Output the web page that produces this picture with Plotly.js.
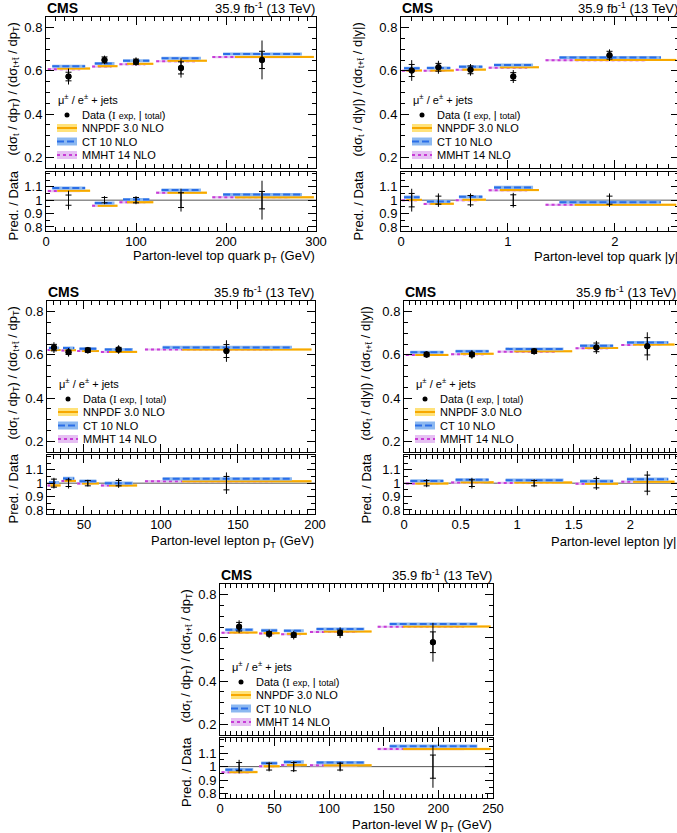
<!DOCTYPE html>
<html><head><meta charset="utf-8">
<script src="https://cdn.plot.ly/plotly-3.0.1.min.js"></script>
<style>html,body{margin:0;padding:0;overflow:hidden;background:#fff}#chart{width:690px;height:833px}</style>
</head><body><div id="chart"></div>
<script>
// ---------- DATA ----------
// Panel 1: parton-level top quark pT
const topPtEdges = [0, 50, 80, 120, 180, 300];
const topPtData  = [0.574, 0.651, 0.643, 0.614, 0.651];
const topPtExp   = [0.020, 0.014, 0.012, 0.028, 0.040];
const topPtTot   = [0.037, 0.020, 0.020, 0.045, 0.090];
const topPtNNPDF = [0.611, 0.622, 0.633, 0.647, 0.665];
const topPtCT10  = [0.622, 0.634, 0.647, 0.659, 0.678];
const topPtMMHT  = [0.608, 0.620, 0.631, 0.645, 0.664];
const topPtRatioNNPDF = [1.070, 0.958, 0.985, 1.055, 1.022];
const topPtRatioCT10  = [1.090, 0.978, 1.005, 1.075, 1.042];
const topPtRatioMMHT  = [1.068, 0.958, 0.985, 1.055, 1.022];
const topPtRatioExp   = [0.038, 0.020, 0.020, 0.055, 0.065];
const topPtRatioTot   = [0.070, 0.030, 0.030, 0.085, 0.145];

// Panel 2: parton-level top quark |y|
const topYEdges = [0, 0.2, 0.5, 0.8, 1.3, 2.6];
const topYData  = [0.602, 0.617, 0.605, 0.574, 0.673];
const topYExp   = [0.028, 0.018, 0.018, 0.018, 0.018];
const topYTot   = [0.048, 0.030, 0.027, 0.030, 0.027];
const topYNNPDF = [0.602, 0.602, 0.606, 0.617, 0.651];
const topYCT10  = [0.612, 0.614, 0.619, 0.628, 0.662];
const topYMMHT  = [0.601, 0.601, 0.605, 0.615, 0.650];
const topYRatioNNPDF = [1.002, 0.973, 1.003, 1.075, 0.965];
const topYRatioCT10  = [1.022, 0.990, 1.025, 1.095, 0.985];
const topYRatioMMHT  = [1.000, 0.972, 1.000, 1.073, 0.965];
const topYRatioExp   = [0.050, 0.030, 0.035, 0.040, 0.030];
const topYRatioTot   = [0.085, 0.050, 0.050, 0.055, 0.050];

// Panel 3: parton-level lepton pT
const lepPtEdges = [26, 35, 45, 60, 85, 200];
const lepPtData  = [0.634, 0.612, 0.622, 0.625, 0.618];
const lepPtExp   = [0.015, 0.010, 0.010, 0.010, 0.030];
const lepPtTot   = [0.025, 0.020, 0.015, 0.020, 0.050];
const lepPtNNPDF = [0.623, 0.622, 0.618, 0.614, 0.625];
const lepPtCT10  = [0.632, 0.632, 0.629, 0.625, 0.635];
const lepPtMMHT  = [0.623, 0.621, 0.618, 0.614, 0.625];
const lepPtRatioNNPDF = [0.983, 1.017, 0.998, 0.983, 1.015];
const lepPtRatioCT10  = [1.005, 1.035, 1.015, 1.000, 1.032];
const lepPtRatioMMHT  = [0.983, 1.017, 0.998, 0.983, 1.015];
const lepPtRatioExp   = [0.030, 0.025, 0.020, 0.020, 0.050];
const lepPtRatioTot   = [0.040, 0.040, 0.025, 0.035, 0.080];

// Panel 4: parton-level lepton |y|
const lepYEdges = [0, 0.4, 0.8, 1.5, 1.9, 2.4];
const lepYData  = [0.602, 0.602, 0.617, 0.635, 0.640];
const lepYExp   = [0.010, 0.010, 0.010, 0.020, 0.040];
const lepYTot   = [0.015, 0.020, 0.015, 0.030, 0.065];
const lepYNNPDF = [0.600, 0.605, 0.617, 0.632, 0.648];
const lepYCT10  = [0.612, 0.617, 0.628, 0.643, 0.658];
const lepYMMHT  = [0.600, 0.603, 0.615, 0.631, 0.646];
const lepYRatioNNPDF = [0.998, 1.007, 1.005, 0.995, 1.010];
const lepYRatioCT10  = [1.017, 1.025, 1.022, 1.015, 1.030];
const lepYRatioMMHT  = [0.998, 1.005, 1.002, 0.995, 1.010];
const lepYRatioExp   = [0.020, 0.025, 0.020, 0.035, 0.060];
const lepYRatioTot   = [0.030, 0.040, 0.030, 0.050, 0.090];

// Panel 5: parton-level W pT
const wPtEdges = [0, 35, 55, 80, 140, 250];
const wPtData  = [0.652, 0.619, 0.613, 0.624, 0.580];
const wPtExp   = [0.020, 0.010, 0.010, 0.012, 0.048];
const wPtTot   = [0.030, 0.020, 0.020, 0.025, 0.090];
const wPtNNPDF = [0.625, 0.622, 0.619, 0.630, 0.653];
const wPtCT10  = [0.638, 0.635, 0.633, 0.641, 0.665];
const wPtMMHT  = [0.624, 0.621, 0.617, 0.628, 0.652];
const wPtRatioNNPDF = [0.960, 1.003, 1.012, 1.010, 1.130];
const wPtRatioCT10  = [0.978, 1.025, 1.034, 1.030, 1.150];
const wPtRatioMMHT  = [0.958, 1.003, 1.012, 1.010, 1.130];
const wPtRatioExp   = [0.030, 0.025, 0.030, 0.025, 0.085];
const wPtRatioTot   = [0.050, 0.035, 0.040, 0.035, 0.155];

const mainTicks  = [0.2, 0.4, 0.6, 0.8];
const ratioTicks = [0.8, 0.9, 1, 1.1];

// ---------- STYLE / LAYOUT ----------
const W = 690, H = 833;
const FONT = 'Liberation Sans, Arial, Helvetica, sans-serif';
const ptTitle = '(dσ<sub>t</sub> / dp<sub>T</sub>) / (dσ<sub>t+t\u0304</sub> / dp<sub>T</sub>)';
const yTitle  = '(dσ<sub>t</sub> / d|y|) / (dσ<sub>t+t\u0304</sub> / d|y|)';

const panels = [
  {edges: topPtEdges, data: topPtData, exp: topPtExp, tot: topPtTot,
   pred: {NNPDF: topPtNNPDF, CT10: topPtCT10, MMHT: topPtMMHT},
   ratio: {NNPDF: topPtRatioNNPDF, CT10: topPtRatioCT10, MMHT: topPtRatioMMHT},
   rExp: topPtRatioExp, rTot: topPtRatioTot,
   range: [0, 300], dtick: 100, minor: 10,
   px: [46, 316], main: [17, 168], rat: [172, 231], ytX: 13, xtY: 257, txtR: 316,
   ytitle: ptTitle, xtitle: 'Parton-level top quark p<sub>T</sub> (GeV)'},
  {edges: topYEdges, data: topYData, exp: topYExp, tot: topYTot,
   pred: {NNPDF: topYNNPDF, CT10: topYCT10, MMHT: topYMMHT},
   ratio: {NNPDF: topYRatioNNPDF, CT10: topYRatioCT10, MMHT: topYRatioMMHT},
   rExp: topYRatioExp, rTot: topYRatioTot,
   range: [0, 2.6], dtick: 1, minor: 0.1,
   px: [401, 679], main: [17, 168], rat: [172, 231], ytX: 358, xtY: 257, txtR: 679,
   ytitle: yTitle, xtitle: 'Parton-level top quark |y|'},
  {edges: lepPtEdges, data: lepPtData, exp: lepPtExp, tot: lepPtTot,
   pred: {NNPDF: lepPtNNPDF, CT10: lepPtCT10, MMHT: lepPtMMHT},
   ratio: {NNPDF: lepPtRatioNNPDF, CT10: lepPtRatioCT10, MMHT: lepPtRatioMMHT},
   rExp: lepPtRatioExp, rTot: lepPtRatioTot,
   range: [26, 200], dtick: 50, minor: 5,
   px: [47, 315], main: [301, 452], rat: [455, 514], ytX: 13, xtY: 541, txtR: 315,
   ytitle: ptTitle, xtitle: 'Parton-level lepton p<sub>T</sub> (GeV)'},
  {edges: lepYEdges, data: lepYData, exp: lepYExp, tot: lepYTot,
   pred: {NNPDF: lepYNNPDF, CT10: lepYCT10, MMHT: lepYMMHT},
   ratio: {NNPDF: lepYRatioNNPDF, CT10: lepYRatioCT10, MMHT: lepYRatioMMHT},
   rExp: lepYRatioExp, rTot: lepYRatioTot,
   range: [0, 2.43], dtick: 0.5, minor: 0.05,
   px: [404, 679], main: [301, 452], rat: [455, 514], ytX: 366, xtY: 541, txtR: 677,
   ytitle: yTitle, xtitle: 'Parton-level lepton |y|'},
  {edges: wPtEdges, data: wPtData, exp: wPtExp, tot: wPtTot,
   pred: {NNPDF: wPtNNPDF, CT10: wPtCT10, MMHT: wPtMMHT},
   ratio: {NNPDF: wPtRatioNNPDF, CT10: wPtRatioCT10, MMHT: wPtRatioMMHT},
   rExp: wPtRatioExp, rTot: wPtRatioTot,
   range: [0, 250], dtick: 50, minor: 5,
   px: [220, 493], main: [584, 735], rat: [738, 798], ytX: 186, xtY: 825, txtR: 493,
   ytitle: ptTitle, xtitle: 'Parton-level W p<sub>T</sub> (GeV)'}
];

// series styles (draw order: MMHT, NNPDF, CT10)
const series = [
  {key: 'MMHT',  name: 'MMHT 14 NLO',   line: '#c83cd6', band: '#e6c0f3', dash: 'dot',     seg: [0.04, 0.76], uMain: 0.005, uRat: 0.009},
  {key: 'NNPDF', name: 'NNPDF 3.0 NLO', line: '#f7a800', band: '#ffe27a', dash: 'solid',   seg: [0.25, 0.98], uMain: 0.005, uRat: 0.009},
  {key: 'CT10',  name: 'CT 10 NLO',     line: '#2a6ee8', band: '#8cb8f0', dash: '7px,3px', seg: [0.14, 0.87], uMain: 0.007, uRat: 0.012}
];

const X = px => px / W;
const Y = py => 1 - py / H;

const traces = [];
const layout = {
  width: W, height: H, margin: {l: 0, r: 0, t: 0, b: 0},
  paper_bgcolor: '#fff', plot_bgcolor: '#fff', showlegend: false,
  font: {family: FONT, size: 13, color: '#000'},
  annotations: [], shapes: []
};

function axisBase(extra) {
  return Object.assign({
    ticks: 'inside', ticklen: 8, tickwidth: 1, tickcolor: '#000',
    showline: true, linecolor: '#000', linewidth: 1, mirror: 'allticks',
    zeroline: false, showgrid: false, fixedrange: true,
    tickfont: {family: FONT, size: 13, color: '#000'}
  }, extra);
}

panels.forEach((p, i) => {
  const a = 2 * i + 1, b = 2 * i + 2;
  const xa = a === 1 ? 'x' : 'x' + a, ya = a === 1 ? 'y' : 'y' + a;
  const xb = 'x' + b, yb = 'y' + b;
  const xdom = [X(p.px[0]), Math.min(1, X(p.px[1]))];
  const mainDom = [Y(p.main[1]), Y(p.main[0])];
  const ratDom = [Y(p.rat[1]), Y(p.rat[0])];
  const minorX = {dtick: p.minor, ticklen: 4, tickcolor: '#000', ticks: 'inside', showgrid: false};
  layout['xaxis' + (a === 1 ? '' : a)] = axisBase({domain: xdom, range: p.range, dtick: p.dtick, tick0: 0,
    showticklabels: false, anchor: ya, minor: minorX});
  layout['xaxis' + b] = axisBase({domain: xdom, range: p.range, dtick: p.dtick, tick0: 0,
    anchor: yb, minor: minorX, ticklabelstandoff: -2});
  layout['yaxis' + (a === 1 ? '' : a)] = axisBase({domain: mainDom, range: [0.15, 0.85],
    tickmode: 'array', tickvals: mainTicks, ticktext: mainTicks.map(String),
    anchor: xa, minor: {dtick: 0.05, tick0: 0, ticklen: 4, tickcolor: '#000', ticks: 'inside', showgrid: false}});
  layout['yaxis' + b] = axisBase({domain: ratDom, range: [0.77, 1.21],
    tickmode: 'array', tickvals: ratioTicks, ticktext: ratioTicks.map(String),
    anchor: xb, minor: {dtick: 0.05, tick0: 0, ticklen: 4, tickcolor: '#000', ticks: 'inside', showgrid: false}});

  const e = p.edges;
  const centers = e.slice(0, -1).map((lo, k) => (lo + e[k + 1]) / 2);

  // line at 1 in ratio
  layout.shapes.push({type: 'line', xref: xb + ' domain', x0: 0, x1: 1, yref: yb, y0: 1, y1: 1,
    line: {color: '#555', width: 1}, layer: 'below'});

  // predictions
  series.forEach(s => {
    [[p.pred[s.key], s.uMain, xa, ya], [p.ratio[s.key], s.uRat, xb, yb]].forEach(([vals, u, xr, yr]) => {
      const bx = [], by = [], lx = [], ly = [];
      vals.forEach((v, k) => {
        const lo = e[k], w = e[k + 1] - e[k];
        const x0 = lo + s.seg[0] * w, x1 = lo + s.seg[1] * w;
        bx.push(x0, x1, x1, x0, x0, null);
        by.push(v - u, v - u, v + u, v + u, v - u, null);
        lx.push(x0, x1, null);
        ly.push(v, v, null);
      });
      traces.push({type: 'scatter', mode: 'lines', x: bx, y: by, xaxis: xr, yaxis: yr,
        fill: 'toself', fillcolor: s.band, line: {width: 0, color: s.band}, hoverinfo: 'skip'});
      traces.push({type: 'scatter', mode: 'lines', x: lx, y: ly, xaxis: xr, yaxis: yr,
        line: {width: 2, color: s.line, dash: s.dash}, hoverinfo: 'skip'});
    });
  });

  // data - main
  traces.push({type: 'scatter', mode: 'markers', x: centers, y: p.data, xaxis: xa, yaxis: ya,
    marker: {size: 6, color: '#000'},
    error_y: {type: 'data', array: p.tot, visible: true, width: 0, thickness: 1, color: '#000'}});
  traces.push({type: 'scatter', mode: 'markers', x: centers, y: p.data, xaxis: xa, yaxis: ya,
    marker: {size: 6, color: '#000'},
    error_y: {type: 'data', array: p.exp, visible: true, width: 3, thickness: 1, color: '#000'}});
  // data - ratio
  const ones = centers.map(() => 1);
  traces.push({type: 'scatter', mode: 'markers', x: centers, y: ones, xaxis: xb, yaxis: yb,
    marker: {size: 1, color: 'rgba(0,0,0,0)'},
    error_y: {type: 'data', array: p.rTot, visible: true, width: 0, thickness: 1, color: '#000'}});
  traces.push({type: 'scatter', mode: 'markers', x: centers, y: ones, xaxis: xb, yaxis: yb,
    marker: {size: 1, color: 'rgba(0,0,0,0)'},
    error_y: {type: 'data', array: p.rExp, visible: true, width: 3, thickness: 1, color: '#000'}});

  // texts
  const L = p.px[0], R = p.txtR, T = p.main[0];
  const ann = (text, x, y, opts) => layout.annotations.push(Object.assign({
    text, x: X(x), y: Y(y), xref: 'paper', yref: 'paper', showarrow: false,
    xanchor: 'left', yanchor: 'middle', font: {family: FONT, size: 13, color: '#000'}}, opts || {}));
  ann('<b>CMS</b>', L - 1, T - 9, {font: {family: FONT, size: 14, color: '#000'}});
  ann('35.9 fb<sup>-1</sup> (13 TeV)', R + 1, T - 9, {xanchor: 'right'});
  ann(p.xtitle, R + 1, p.xtY, {xanchor: 'right'});
  ann(p.ytitle, p.ytX, (p.main[0] + p.main[1]) / 2 - 3, {xanchor: 'center', textangle: -90});
  ann('Pred. / Data', p.ytX, (p.rat[0] + p.rat[1]) / 2 + 4, {xanchor: 'center', textangle: -90});

  // legend
  const lf = {family: FONT, size: 11, color: '#000'};
  ann('μ<sup>±</sup> / e<sup>±</sup> + jets', L + 10, T + 82, {font: lf});
  layout.shapes.push({type: 'circle', xref: 'paper', yref: 'paper',
    x0: X(L + 18.5), x1: X(L + 23.5), y0: Y(T + 100.5), y1: Y(T + 95.5),
    fillcolor: '#000', line: {width: 0}});
  ann('Data (<span style="font-family:Liberation Serif">I</span> <span style="font-size:9px">exp,</span> | <span style="font-size:9px">total</span>)',
    L + 34, T + 98, {font: lf});
  const legRows = [['NNPDF', 111], ['CT10', 124.5], ['MMHT', 138]];
  legRows.forEach(([key, dy]) => {
    const s = series.find(z => z.key === key);
    layout.shapes.push({type: 'rect', xref: 'paper', yref: 'paper',
      x0: X(L + 11), x1: X(L + 31), y0: Y(T + dy + 4), y1: Y(T + dy - 4),
      fillcolor: s.band, line: {width: 0}});
    layout.shapes.push({type: 'line', xref: 'paper', yref: 'paper',
      x0: X(L + 11), x1: X(L + 31), y0: Y(T + dy), y1: Y(T + dy),
      line: {color: s.line, width: 2, dash: s.dash}});
    ann(s.name, L + 34, T + dy, {font: lf});
  });
});

Plotly.newPlot('chart', traces, layout, {staticPlot: true, displayModeBar: false});
</script>
</body></html>
